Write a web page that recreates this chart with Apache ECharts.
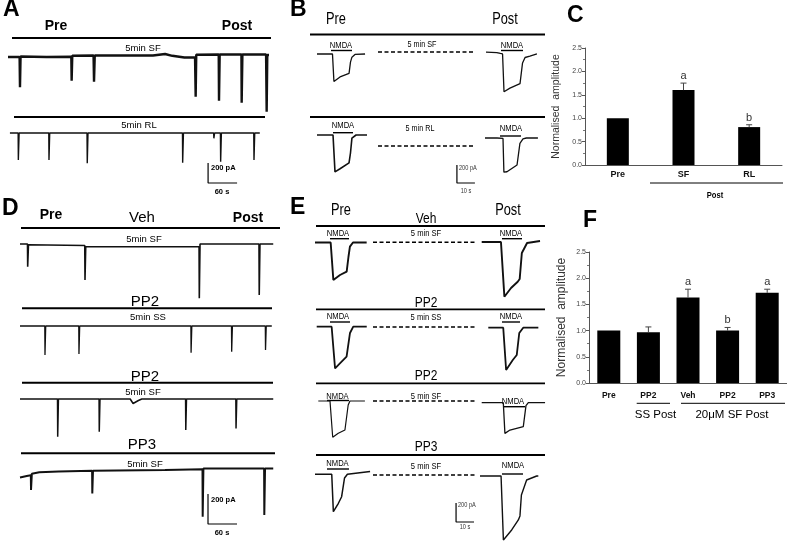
<!DOCTYPE html>
<html>
<head>
<meta charset="utf-8">
<script src="https://cdn.jsdelivr.net/npm/echarts@6/dist/echarts.min.js"></script>
<style>
  html, body { margin: 0; padding: 0; background: #fff; }
  #chart { width: 787px; height: 541px; }
</style>
</head>
<body>
<div id="chart"></div>
<script>
const SANS = '"Liberation Sans", Arial, sans-serif';

// ---- data: [time s, current pA] ----
// A: spontaneous currents, 5 min SF / 5 min RL
const traceA_SF = [[0,0],[24,0],[24.8,-303],[26,5],[80,0],[131,3],[131.7,-237],[133,12],[177,15],[178,-247],[179.5,15],[300,15],[325,30],[340,12],[365,-5],[387,-5],[388.3,-397],[389.5,22],[436,25],[436.6,-437],[438,25],[483,25],[483.5,-457],[485,25],[534,25],[535.2,-547],[536.5,20],[540,20]];
const traceA_RL = [[4,0],[21,0],[21.4,-270],[23,0],[84.4,0],[84.8,-270],[86.3,0],[163.5,0],[164,-303],[165.5,0],[361,0],[361.4,-297],[363,0],[425.5,0],[426,-53],[427.5,0],[439.5,0],[440,-287],[441.5,0],[508.5,0],[509,-270],[510.5,0],[521,0]];
const scaleA = [[414,-300],[414,-500],[474,-500]];

// D: Veh / PP2 (SS) / PP2 (SF) / PP3
const traceD_Veh = [[0,0],[15.5,0],[15.9,-151],[17.5,-5],[134,-10],[134.5,-240],[136,-18],[370.5,-18],[371,-362],[372.5,0],[494.5,0],[495,-340],[496.5,0],[524,0]];
const traceD_PP2SS = [[0,0],[51.3,0],[51.7,-193],[53.2,0],[121.6,0],[122,-187],[123.5,0],[353.6,0],[354,-178],[355.5,0],[437.6,0],[438,-171],[439.5,0],[507.6,0],[508,-160],[509.5,0],[521,0]];
const traceD_PP2SF = [[0,0],[77.6,0],[78,-251],[79.5,0],[163.6,0],[164,-218],[165.5,0],[228,0],[234,-30],[245,-10],[252,0],[342.6,0],[343,-207],[344.5,0],[446.6,0],[447,-196],[448.5,0],[524,0]];
const traceD_PP3 = [[0,-10],[14,0],[22.4,5],[22.8,-93],[24.5,15],[40,25],[80,30],[149.2,35],[149.6,-116],[151,35],[300,40],[377.6,45],[378,-271],[379.5,50],[505.1,50],[505.5,-260],[507,50],[524,50]];
const scaleD = [[389,-120],[389,-320],[449,-320]];

// B: NMDA currents pre / post
const nmdaB_SF_pre = [[0,0],[8.6,0],[9.4,-305],[12.8,-255],[17.8,-215],[18.6,-90],[19.4,-35],[21.1,-5],[26.7,0]];
const nmdaB_SF_post = [[0,10],[6,5],[8,-5],[9.2,-10],[10,-430],[13.3,-390],[18.9,-340],[19.4,-320],[20.3,-110],[21.7,-50],[24.4,-35],[28.3,-10]];
const nmdaB_RL_pre = [[0,0],[8.9,0],[10,-410],[12.8,-375],[17.8,-310],[18.6,-200],[19.4,-35],[21.7,0],[27.8,0]];
const nmdaB_RL_post = [[0,0],[6.7,0],[10,-5],[10.5,-380],[12.2,-375],[17.8,-300],[18.9,-280],[19.4,-60],[21.1,-10],[23,0],[29.4,0]];
const scaleB = [[-15.6,-300],[-15.6,-500],[-5.6,-500]];

// E: NMDA currents pre / post
const nmdaE_Veh_pre = [[0,0],[8.7,0],[10.2,-395],[13.9,-342],[17.6,-307],[18.6,-150],[19.4,-44],[21.1,0],[28.7,0]];
const nmdaE_Veh_post = [[0,0],[10.7,0],[12.6,-576],[16.3,-484],[20,-418],[21.1,-390],[22.3,-116],[25.2,-10],[32.4,10]];
const nmdaE_PP2SS_pre = [[0,0],[8.3,0],[10.2,-438],[12.9,-386],[16.6,-316],[17.5,-300],[18.5,-66],[20.3,0],[27.8,0]];
const nmdaE_PP2SS_post = [[0,0],[8.3,0],[9.9,-445],[13.6,-340],[15.8,-288],[16.3,-270],[17.2,-56],[19.4,0],[27.8,0]];
const nmdaE_PP2SF_pre = [[0,0],[6.5,0],[8,-382],[11.1,-340],[14.8,-305],[15.7,-290],[16.6,-42],[17.6,0],[25.9,0]];
const nmdaE_PP2SF_post = [[0,0],[12,0],[12.9,-323],[15.7,-288],[23.1,-253],[23.7,-240],[24.6,-30],[25.9,0],[35.2,0]];
const nmdaE_PP3_pre = [[0,0],[9.3,0],[10.2,-394],[13,-305],[14.8,-236],[15.4,-220],[16.4,-39],[18,0],[30.6,30]];
const nmdaE_PP3_post = [[0,0],[11.7,0],[13,-674],[17.6,-568],[21.3,-463],[22.2,-420],[23,-200],[25.9,-42],[31.5,0],[32.4,0]];
const scaleE = [[-13.3,-284],[-13.3,-484],[-3.3,-484]];

// C and F: normalised amplitude
const ampTicks = [0, 0.5, 1.0, 1.5, 2.0, 2.5];
const catsC = ['Pre', 'SF', 'RL'];
const meanC = [1.0, 1.6, 0.81];
const errC = [0, 0.15, 0.05];
const sigC = ['', 'a', 'b'];
const catsF = ['Pre', 'PP2', 'Veh', 'PP2', 'PP3'];
const meanF = [1.0, 0.97, 1.63, 1.0, 1.72];
const errF = [0, 0.1, 0.16, 0.06, 0.07];
const sigF = ['', '', 'a', 'b', 'a'];

// ---- layout: where each trace sits (x0 = t 0, yb = 0 pA, px per s, px per pA) ----
const traces = [
  { data: traceA_SF, x0: 8, yb: 57, sx: 0.4833, sy: 0.1, w: 2.4 },
  { data: traceA_RL, bar: scaleA, x0: 8, yb: 133, sx: 0.4833, sy: 0.1, w: 1.4 },
  { data: traceD_Veh, x0: 20, yb: 244, sx: 0.4833, sy: 0.15, w: 1.6 },
  { data: traceD_PP2SS, x0: 20, yb: 326, sx: 0.4833, sy: 0.15, w: 1.3 },
  { data: traceD_PP2SF, x0: 20, yb: 399, sx: 0.4833, sy: 0.15, w: 1.5 },
  { data: traceD_PP3, bar: scaleD, x0: 20, yb: 476, sx: 0.4833, sy: 0.15, w: 2 },
  { data: nmdaB_SF_pre, x0: 317, yb: 54, sx: 1.8, sy: 0.09, w: 1.3 },
  { data: nmdaB_SF_post, x0: 486, yb: 53, sx: 1.8, sy: 0.09, w: 1.3 },
  { data: nmdaB_RL_pre, x0: 317, yb: 135, sx: 1.8, sy: 0.09, w: 1.6 },
  { data: nmdaB_RL_post, bar: scaleB, x0: 485, yb: 138, sx: 1.8, sy: 0.09, w: 1.3 },
  { data: nmdaE_Veh_pre, x0: 315, yb: 242.5, sx: 1.8, sy: 0.095, w: 1.9 },
  { data: nmdaE_Veh_post, x0: 481.7, yb: 242, sx: 1.8, sy: 0.095, w: 1.9 },
  { data: nmdaE_PP2SS_pre, x0: 316.7, yb: 326.7, sx: 1.8, sy: 0.095, w: 1.8 },
  { data: nmdaE_PP2SS_post, x0: 488.3, yb: 327.7, sx: 1.8, sy: 0.095, w: 1.8 },
  { data: nmdaE_PP2SF_pre, x0: 318.3, yb: 401, sx: 1.8, sy: 0.095, w: 1.2 },
  { data: nmdaE_PP2SF_post, x0: 481.7, yb: 402.7, sx: 1.8, sy: 0.095, w: 1.3 },
  { data: nmdaE_PP3_pre, x0: 315, yb: 474.3, sx: 1.8, sy: 0.095, w: 1.5 },
  { data: nmdaE_PP3_post, bar: scaleE, x0: 480, yb: 476, sx: 1.8, sy: 0.095, w: 1.4 }
];

const grids = [], xAxes = [], yAxes = [], series = [];

traces.forEach((tr, k) => {
  const pts = tr.data.concat(tr.bar || []);
  const ts = pts.map(p => p[0]), is = pts.map(p => p[1]);
  const tMin = Math.min(...ts) - 2, tMax = Math.max(...ts) + 2;
  const iMin = Math.min(...is) - 20, iMax = Math.max(...is) + 20;
  grids.push({
    left: tr.x0 + tMin * tr.sx, top: tr.yb - iMax * tr.sy,
    width: (tMax - tMin) * tr.sx, height: (iMax - iMin) * tr.sy,
    outerBoundsMode: 'none'
  });
  xAxes.push({ type: 'value', gridIndex: k, show: false, min: tMin, max: tMax });
  yAxes.push({ type: 'value', gridIndex: k, show: false, min: iMin, max: iMax });
  series.push({
    type: 'line', xAxisIndex: k, yAxisIndex: k, data: tr.data, symbol: 'none', silent: true,
    lineStyle: { color: '#111', width: tr.w }
  });
  if (tr.bar) {
    series.push({
      type: 'line', xAxisIndex: k, yAxisIndex: k, data: tr.bar, symbol: 'none', silent: true,
      lineStyle: { color: '#000', width: 1.2 }
    });
  }
});

// bar charts C and F
function errRender(sig) {
  return (params, api) => {
    const x = api.value(0), m = api.value(1), e = api.value(2);
    const p0 = api.coord([x, m]);
    const p1 = api.coord([x, m + e]);
    const children = [];
    if (e > 0) {
      children.push({ type: 'line', shape: { x1: p0[0], y1: p0[1], x2: p1[0], y2: p1[1] }, style: { stroke: '#444', lineWidth: 1 } });
      children.push({ type: 'line', shape: { x1: p1[0] - 3, y1: p1[1], x2: p1[0] + 3, y2: p1[1] }, style: { stroke: '#444', lineWidth: 1 } });
    }
    if (sig[params.dataIndex]) {
      children.push({
        type: 'text', x: p1[0], y: p1[1] - 7,
        style: { text: sig[params.dataIndex], font: '11px ' + SANS, fill: '#333', align: 'center', verticalAlign: 'middle', textAlign: 'center', textVerticalAlign: 'middle' }
      });
    }
    return { type: 'group', children };
  };
}

function barPanel(idx, box, cats, mean, err, sig, o) {
  grids.push(Object.assign({ outerBoundsMode: 'none' }, box));
  xAxes.push({
    type: 'category', gridIndex: idx, data: cats,
    axisLine: { lineStyle: { color: '#555', width: 1 } },
    axisTick: { show: false },
    axisLabel: { fontFamily: SANS, fontWeight: 'bold', fontSize: o.catSize, color: '#111', margin: o.catMargin, interval: 0 }
  });
  yAxes.push({
    type: 'value', gridIndex: idx,
    min: ampTicks[0], max: ampTicks[ampTicks.length - 1], interval: ampTicks[1] - ampTicks[0],
    name: 'Normalised  amplitude', nameLocation: 'middle', nameGap: o.nameGap,
    nameTextStyle: { fontFamily: SANS, fontSize: o.nameSize, color: '#333' },
    axisLine: { show: true, lineStyle: { color: '#555', width: 1 } },
    axisTick: { show: true, length: 3, lineStyle: { color: '#555' } },
    minorTick: { show: true, splitNumber: 2, length: 2, lineStyle: { color: '#777' } },
    splitLine: { show: false },
    axisLabel: { fontFamily: SANS, fontSize: 7, color: '#444', margin: 3, formatter: v => v.toFixed(1) }
  });
  series.push({
    type: 'bar', xAxisIndex: idx, yAxisIndex: idx, data: mean, barWidth: o.barWidth, silent: true,
    itemStyle: { color: '#000' }
  });
  series.push({
    type: 'custom', xAxisIndex: idx, yAxisIndex: idx, silent: true, z: 5,
    data: mean.map((m, i) => [i, m, err[i]]), renderItem: errRender(sig)
  });
}

barPanel(traces.length, { left: 585, top: 48, width: 197, height: 117 }, catsC, meanC, errC, sigC,
  { catSize: 9, catMargin: 5, nameGap: 23, nameSize: 10.5, barWidth: 22 });
barPanel(traces.length + 1, { left: 589, top: 252, width: 198, height: 131 }, catsF, meanF, errF, sigF,
  { catSize: 8.5, catMargin: 8, nameGap: 21, nameSize: 12, barWidth: 23 });

// ---- text, separator lines and brackets ----
function txt(x, y, s, size, o) {
  o = o || {};
  const align = o.align || 'center';
  return {
    type: 'text', x, y, silent: true, scaleX: o.narrow ? 0.8 : 1,
    style: {
      text: s, fill: o.color || '#000',
      font: (o.bold ? 'bold ' : '') + size + 'px ' + SANS,
      align, verticalAlign: 'middle', textAlign: align, textVerticalAlign: 'middle'
    }
  };
}
function seg(x1, x2, y, w, dash) {
  return { type: 'line', silent: true, shape: { x1, y1: y, x2, y2: y }, style: { stroke: '#000', lineWidth: w, lineDash: dash || null } };
}
function nmda(cx, ty, x1, x2, by) {
  return [txt(cx, ty, 'NMDA', 9.5, { narrow: true }), seg(x1, x2, by, 1.4)];
}
const dash = [4, 2.5];

const elements = [
  // A
  txt(3, 10, 'A', 23, { bold: true, align: 'left' }),
  txt(56, 26, 'Pre', 14, { bold: true }),
  txt(237, 26, 'Post', 14, { bold: true }),
  seg(12, 271, 38, 2),
  txt(143, 48, '5min SF', 9.5),
  seg(14, 265, 117, 2),
  txt(139, 125, '5min RL', 9.5),
  txt(211, 168, '200 pA', 7.5, { bold: true, align: 'left' }),
  txt(222, 192, '60 s', 7.5, { bold: true }),
  // B
  txt(290, 10, 'B', 23, { bold: true, align: 'left' }),
  txt(336, 20, 'Pre', 16, { narrow: true }),
  txt(505, 20, 'Post', 16, { narrow: true }),
  seg(310, 545, 34.5, 1.8),
  ...nmda(341, 45, 331, 352, 50.5),
  ...nmda(512, 45, 501, 523, 50.5),
  txt(422, 45, '5 min SF', 9, { narrow: true }),
  seg(378, 473, 52, 1.5, dash),
  seg(310, 545, 117, 1.8),
  ...nmda(343, 125.5, 333, 353, 132.7),
  ...nmda(511, 128, 500, 521, 136),
  txt(420, 128.5, '5 min RL', 9, { narrow: true }),
  seg(378, 473, 146, 1.5, dash),
  txt(459, 168, '200 pA', 7, { narrow: true, align: 'left', color: '#333' }),
  txt(466, 191, '10 s', 7, { narrow: true, color: '#333' }),
  // C
  txt(567, 16, 'C', 23, { bold: true, align: 'left' }),
  seg(650, 783, 183, 1),
  txt(715, 195, 'Post', 9.5, { bold: true, narrow: true }),
  // D
  txt(2, 209, 'D', 23, { bold: true, align: 'left' }),
  txt(51, 215, 'Pre', 14, { bold: true }),
  txt(142, 218, 'Veh', 15),
  txt(248, 218, 'Post', 14, { bold: true }),
  seg(21, 280, 228, 2),
  txt(144, 239.5, '5min SF', 9.5),
  txt(145, 301.5, 'PP2', 15),
  seg(22, 272, 308.3, 2),
  txt(148, 317, '5min SS', 9.5),
  txt(145, 377, 'PP2', 15),
  seg(22, 273, 382.7, 2),
  txt(143, 392.5, '5min SF', 9.5),
  txt(142, 445, 'PP3', 15),
  seg(21, 275, 453.3, 2),
  txt(145, 464.3, '5min SF', 9.5),
  txt(211, 500, '200 pA', 7.5, { bold: true, align: 'left' }),
  txt(222, 533, '60 s', 7.5, { bold: true }),
  // E
  txt(290, 208, 'E', 23, { bold: true, align: 'left' }),
  txt(341, 211, 'Pre', 16, { narrow: true }),
  txt(508, 211, 'Post', 16, { narrow: true }),
  txt(426, 219, 'Veh', 15, { narrow: true }),
  seg(316, 545, 226, 1.8),
  ...nmda(338, 233.3, 330, 349, 238.7),
  ...nmda(511, 233.3, 502, 522, 238.7),
  txt(426, 233.3, '5 min SF', 9.5, { narrow: true }),
  seg(373, 475, 242.3, 1.5, dash),
  txt(426, 302.5, 'PP2', 15, { narrow: true }),
  seg(316, 545, 309.3, 1.8),
  ...nmda(338, 316.7, 330, 350, 322),
  ...nmda(511, 316.7, 502, 520, 322),
  txt(426, 317, '5 min SS', 9.5, { narrow: true }),
  seg(373, 475, 327, 1.5, dash),
  txt(426, 376, 'PP2', 15, { narrow: true }),
  seg(316, 545, 383.3, 1.8),
  ...nmda(337.5, 396, 327, 349, 400.5),
  ...nmda(513, 401.7, 503, 525, 406.7),
  txt(426, 396.5, '5 min SF', 9.5, { narrow: true }),
  seg(373, 475, 401, 1.5, dash),
  txt(426, 447, 'PP3', 15, { narrow: true }),
  seg(316, 545, 455, 1.8),
  ...nmda(337.5, 463.3, 327, 349, 469),
  ...nmda(513, 465, 502, 523, 474),
  txt(426, 466, '5 min SF', 9.5, { narrow: true }),
  seg(373, 475, 475, 1.5, dash),
  txt(458, 505, '200 pA', 7, { narrow: true, align: 'left', color: '#333' }),
  txt(465, 527, '10 s', 7, { narrow: true, color: '#333' }),
  // F
  txt(583, 221, 'F', 23, { bold: true, align: 'left' }),
  seg(636.7, 670, 403.3, 1),
  txt(655.5, 414.5, 'SS Post', 11.5),
  seg(681, 785, 403.3, 1),
  txt(732, 414.5, '20μM SF Post', 11.5)
];

const chart = echarts.init(document.getElementById('chart'), null, { renderer: 'canvas' });
chart.setOption({
  animation: false,
  backgroundColor: '#fff',
  grid: grids,
  xAxis: xAxes,
  yAxis: yAxes,
  series: series,
  graphic: { elements: elements }
});
</script>
</body>
</html>
